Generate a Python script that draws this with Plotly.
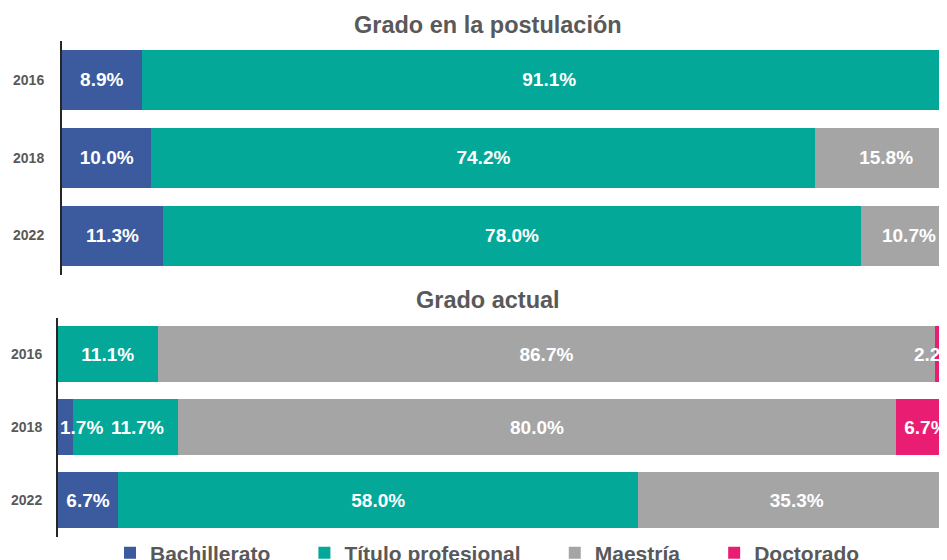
import plotly.graph_objects as go

# Category labels
years = ["2016", "2018", "2022"]
grados = ["Bachillerato", "Título profesional", "Maestría", "Doctorado"]
colores = ["#3B5B9E", "#03A898", "#A5A5A5", "#E91E72"]

# Grado en la postulacion (%), None where no segment is drawn
post_bachillerato = [8.9, 10.0, 11.3]
post_titulo = [91.1, 74.2, 78.0]
post_maestria = [None, 15.8, 10.7]
post_doctorado = [None, None, None]

# Grado actual (%)
act_bachillerato = [None, 1.7, 6.7]
act_titulo = [11.1, 11.7, 58.0]
act_maestria = [86.7, 80.0, 35.3]
act_doctorado = [2.2, 6.7, None]

# the page body has an 8px margin, so the figure is drawn 8px in from the window corner
OFF = 8
W, H = 947 - OFF, 560 - OFF
FONT = "Liberation Sans, Arial, sans-serif"
GRIS = "#595959"
NARROW = 3.0  # segments thinner than this get their label as an annotation


def fx(px):
    # window x pixel -> paper fraction
    return (px - OFF) / W


def fy(px):
    # window y pixel -> paper fraction
    return 1 - (px - OFF) / H


fig = go.Figure()
annotations = []


def label_font():
    return dict(color="white", size=19, family=FONT)


def add_chart(series, xa, ya, legend):
    base = [0.0] * len(years)
    prev_narrow = [False] * len(years)
    for nombre, color, vals in zip(grados, colores, series):
        labels = []
        for i, v in enumerate(vals):
            if v is None:
                labels.append("")
                continue
            txt = "<b>%.1f%%</b>" % v
            if v < NARROW:
                # too thin for inside text: label sits over the segment start
                labels.append("")
                annotations.append(dict(
                    text=txt, x=base[i], y=i, xref=xa, yref=ya, showarrow=False,
                    xanchor="left" if base[i] == 0 else "center", yanchor="middle",
                    font=label_font(),
                ))
                prev_narrow[i] = True
            elif prev_narrow[i]:
                # neighbour of a thin segment: nudge the label right to make room
                labels.append("")
                annotations.append(dict(
                    text=txt, x=base[i] + v / 2, y=i, xref=xa, yref=ya, showarrow=False,
                    xanchor="center", yanchor="middle", xshift=12,
                    font=label_font(),
                ))
                prev_narrow[i] = False
            else:
                labels.append(txt)
            base[i] += v
        fig.add_trace(go.Bar(
            y=years, x=vals, orientation="h",
            name="<b>" + nombre + "</b>" + ("\u00a0" * 5 if nombre != "Doctorado" else ""),
            marker=dict(color=color, line=dict(width=0)),
            text=labels, textposition="inside", insidetextanchor="middle", textangle=0,
            textfont=label_font(),
            xaxis=xa, yaxis=ya, showlegend=legend, hoverinfo="skip",
        ))


add_chart([post_bachillerato, post_titulo, post_maestria, post_doctorado], "x", "y", False)
add_chart([act_bachillerato, act_titulo, act_maestria, act_doctorado], "x2", "y2", True)

axis_y = dict(
    type="category", categoryorder="array", categoryarray=years,
    range=[len(years) - 0.5, -0.5], showgrid=False, zeroline=False,
    showline=True, linecolor="#262626", linewidth=2, ticks="",
    tickprefix="<b>", ticksuffix="</b>",
    tickfont=dict(size=14, color=GRIS, family=FONT),
)
axis_x = dict(showgrid=False, zeroline=False, showticklabels=False, showline=False)

annotations += [
    dict(text="<b>Grado en la postulación</b>", x=fx(488), y=fy(25),
         xref="paper", yref="paper", showarrow=False,
         xanchor="center", yanchor="middle",
         font=dict(size=23.5, color=GRIS, family=FONT)),
    dict(text="<b>Grado actual</b>", x=fx(488), y=fy(300),
         xref="paper", yref="paper", showarrow=False,
         xanchor="center", yanchor="middle",
         font=dict(size=23.5, color=GRIS, family=FONT)),
]

fig.update_layout(
    width=W, height=H,
    margin=dict(l=0, r=0, t=0, b=0, autoexpand=False),
    paper_bgcolor="white", plot_bgcolor="white",
    barmode="stack", bargap=0.23,
    font=dict(family=FONT, color=GRIS),
    xaxis=dict(axis_x, domain=[fx(62), 1], range=[0, 98.9], anchor="y"),
    yaxis=dict(axis_y, domain=[fy(274.5), fy(41)], anchor="x", ticklabelstandoff=13),
    xaxis2=dict(axis_x, domain=[fx(58), 1], range=[0, 99.1], anchor="y2"),
    yaxis2=dict(axis_y, domain=[fy(536.5), fy(317.5)], anchor="x2", ticklabelstandoff=11),
    uniformtext=dict(minsize=19, mode="show"),
    legend=dict(
        orientation="h", x=fx(110), xanchor="left", y=fy(553), yanchor="middle",
        font=dict(size=21, color=GRIS, family=FONT), itemwidth=30,
        traceorder="normal",
    ),
    annotations=annotations,
)

fig.write_html("out.html")
